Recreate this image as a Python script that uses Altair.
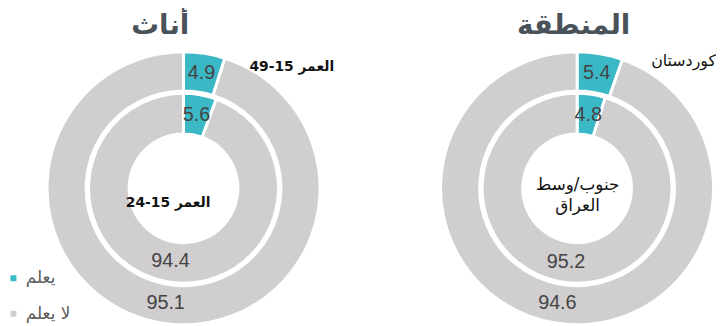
import altair as alt
import pandas as pd
import math

# ---- data ----
panels = ["أناث", "أناث", "المنطقة", "المنطقة"]
rings = ["outer", "inner", "outer", "inner"]
knows = [4.9, 5.6, 5.4, 4.8]
not_knows = [95.1, 94.4, 94.6, 95.2]
categories = ["يعلم", "لا يعلم"]
colors = ["#3bb8c6", "#d0cecf"]
titles_text = ["أناث", "المنطقة"]
ring_label_text = ["العمر 15-49", "العمر 15-24", "كوردستان", "جنوب/وسط", "العراق"]

rows = []
for p, r, k, n in zip(panels, rings, knows, not_knows):
    rows.append({"panel": p, "ring": r, "cat": categories[0], "ord": 0, "value": k, "label": f"{k:.1f}"})
    rows.append({"panel": p, "ring": r, "cat": categories[1], "ord": 1, "value": n, "label": f"{n:.1f}"})
df = pd.DataFrame(rows)

W, H = 716, 318
centers = {"أناث": (177.5, 180.5), "المنطقة": (575.5, 180.5)}
radii = {"outer": (138, 98.5), "inner": (96, 55)}
label_r = {"outer": 118, "inner": 75}

color = alt.Color("cat:N", scale=alt.Scale(domain=categories, range=colors),
                  sort=categories,
                  legend=alt.Legend(orient="none", legendX=-3, legendY=263, title=None,
                                    symbolType="square", symbolSize=36, labelFontSize=17,
                                    labelFont="DejaVu Sans", labelColor="#595959",
                                    rowPadding=18, symbolStrokeWidth=0, labelOffset=4))
theta = alt.Theta("value:Q", stack=True, scale=alt.Scale(domain=[0, 100], range=[0, 2 * math.pi]))

base = alt.Chart(df)
layers = []
for p, (cx, cy) in centers.items():
    for r, (ro, ri) in radii.items():
        sub = base.transform_filter((alt.datum.panel == p) & (alt.datum.ring == r))
        layers.append(sub.mark_arc(radius=ro, radius2=ri, stroke="white", strokeWidth=3).encode(
            theta=theta, color=color, order=alt.Order("ord:Q"),
            x=alt.value(cx), y=alt.value(cy)))
        layers.append(sub.mark_text(radius=label_r[r], fontSize=20, font="Liberation Sans",
                                    color="#444444", baseline="middle", align="center").encode(
            theta=theta, text="label:N", order=alt.Order("ord:Q"),
            x=alt.value(cx), y=alt.value(cy)))

title_layers = []
for t, x in zip(titles_text, [154, 572]):
    title_layers.append(alt.Chart(pd.DataFrame({"t": [t]})).mark_text(
        fontSize=28, fontWeight="bold", font="DejaVu Sans",
        color="#4a5259", align="center", baseline="alphabetic").encode(
        text="t:N", x=alt.value(x), y=alt.value(25)))

label_x = [287, 162, 716, 576, 576]
label_y = [58, 195, 52, 177, 199]
label_w = ["bold", "bold", "normal", "normal", "normal"]
label_a = ["center", "center", "right", "center", "center"]
label_s = [14, 14, 16, 17, 17]
lab_layers = []
for t, x, y, w, a, s in zip(ring_label_text, label_x, label_y, label_w, label_a, label_s):
    lab_layers.append(alt.Chart(pd.DataFrame({"t": [t]})).mark_text(
        fontSize=s, fontWeight=w, font="DejaVu Sans", color="#111111",
        align=a, baseline="middle").encode(
        text="t:N", x=alt.value(x), y=alt.value(y)))

chart = alt.layer(*layers, *title_layers, *lab_layers).properties(
    width=W, height=H, padding=0, autosize=alt.AutoSizeParams(type="none")
).configure_view(stroke=None)

chart.save("out.html", embed_options={"renderer": "svg", "actions": False})
